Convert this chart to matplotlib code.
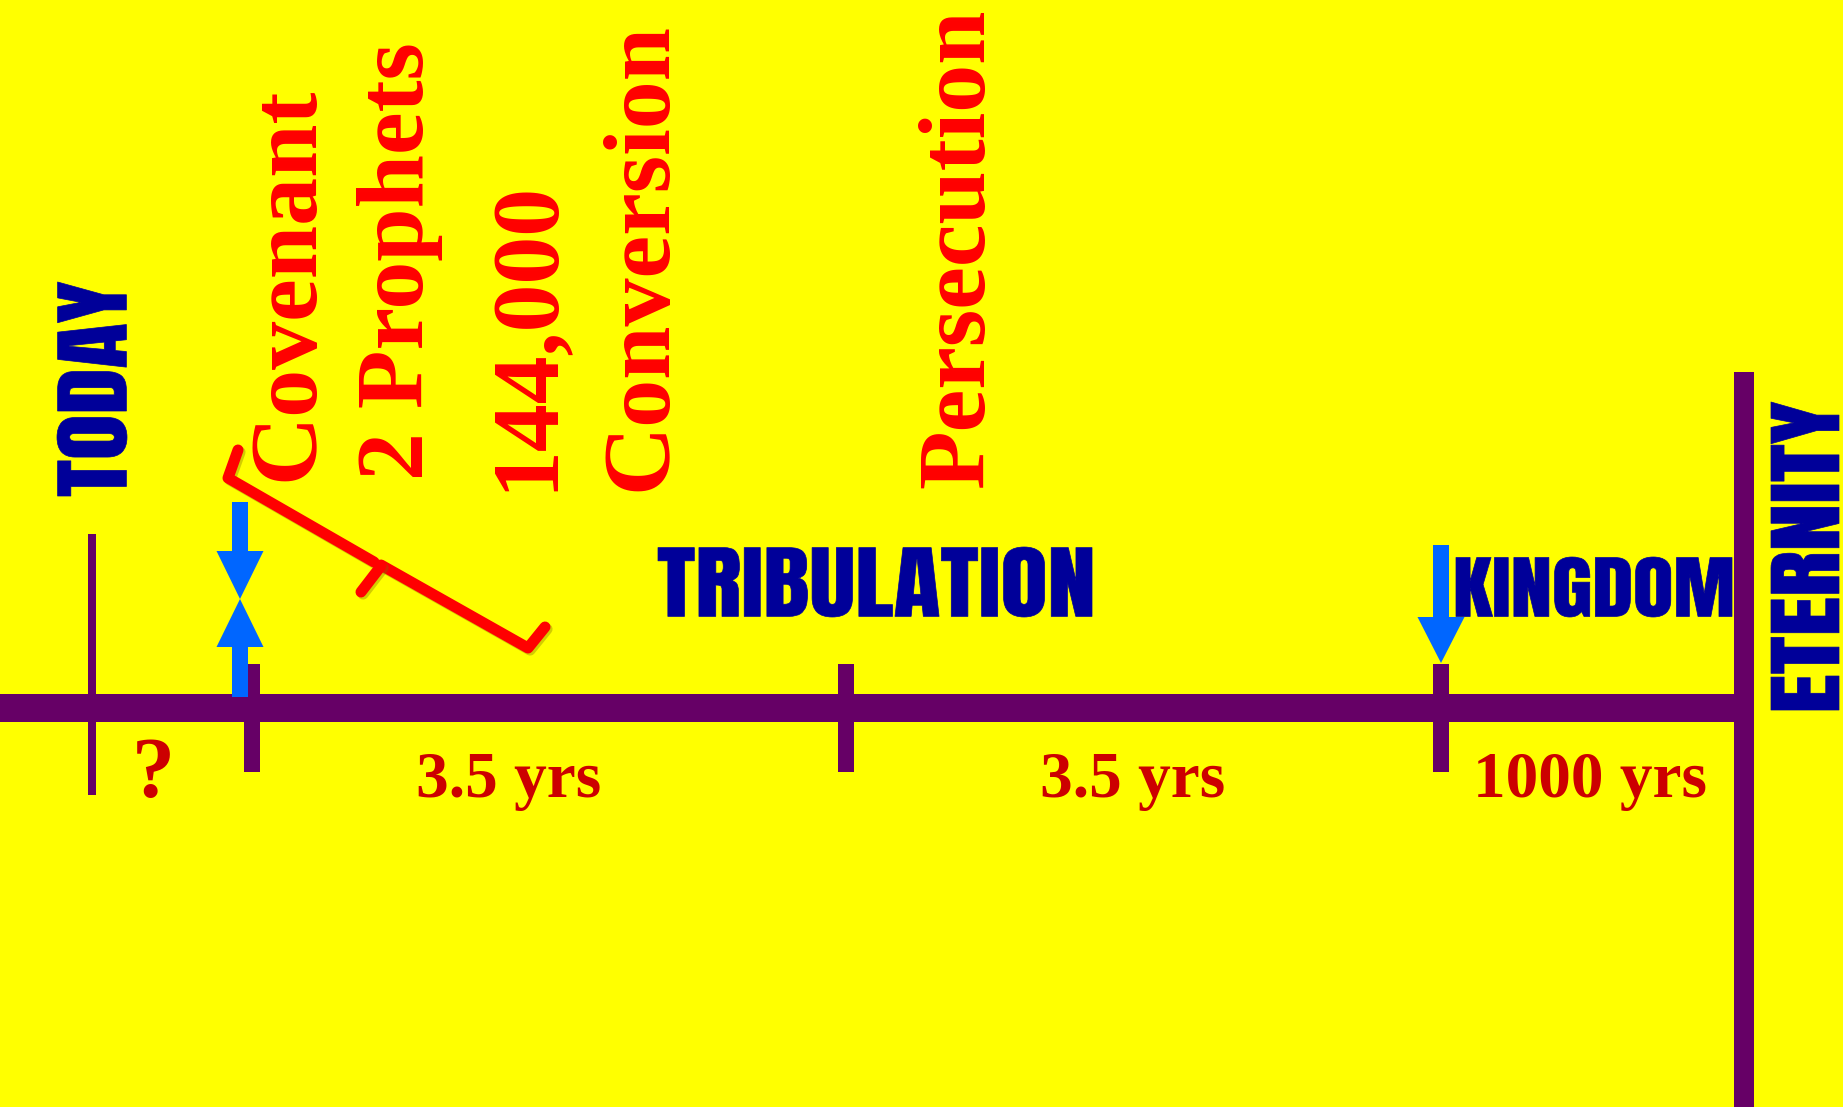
import matplotlib
matplotlib.use("Agg")
import matplotlib.pyplot as plt
import matplotlib.patheffects as pe
from matplotlib.patches import FancyArrow
from matplotlib.textpath import TextPath
from matplotlib.font_manager import FontProperties
from matplotlib.transforms import Affine2D

W, H = 1843, 1107
PX = 72 / 100  # points per pixel at dpi 100

YELLOW = "#ffff00"
PURPLE = "#660066"
BLUE = "#0066ff"
NAVY = "#000099"
RED = "#ff0000"
DARKRED = "#cc0000"
SERIF = ["Liberation Serif", "DejaVu Serif"]
HEAVY = ["Anton", "DejaVu Sans"]

# timeline, in picture pixels
line_y = 708
eternity_x = 1744
eternity_top = 372
today_x = 92
tick_x = [252, 846, 1441]

period_labels = ["?", "3.5 yrs", "3.5 yrs", "1000 yrs"]
period_label_x = [153, 509, 1133, 1590]
period_label_size = [62, 47, 47, 47]

events = ["Covenant", "2 Prophets", "144,000", "Conversion", "Persecution"]
event_x = [312, 423, 552, 665, 983]
event_y = [481, 480, 491, 491, 488]

headings = ["TODAY", "TRIBULATION", "KINGDOM", "ETERNITY"]
heading_box = [(57, 127, 282, 496), (658, 1092, 547, 617),
               (1456, 1732, 557, 617), (1771, 1839, 402, 710)]
heading_rot = [90, 0, 0, 90]

arrow_x = [240, 240, 1441]
arrow_from = [502, 697, 545]
arrow_to = [599, 599, 663]
arrow_head = [(47, 48), (47, 48), (47, 46)]

brace_a_x = [238, 228, 374]
brace_a_y = [450, 478, 562]
brace_b_x = [381, 528, 545]
brace_b_y = [565, 648, 627]
brace_nub_x = [381, 361]
brace_nub_y = [566, 592]


class Squeeze(pe.AbstractPathEffect):
    """narrow the glyphs along the text direction, like a condensed face"""
    def __init__(self, sx, lw=0.0):
        super().__init__()
        self.sx = sx
        self.lw = lw

    def draw_path(self, renderer, gc, tpath, affine, rgbFace=None):
        gc0 = renderer.new_gc()
        gc0.copy_properties(gc)
        gc0.set_linewidth(self.lw)
        gc0.set_foreground(rgbFace)
        renderer.draw_path(gc0, tpath, Affine2D().scale(self.sx, 1) + affine, rgbFace)
        gc0.restore()


fig = plt.figure(figsize=(W / 100, H / 100), dpi=100, facecolor=YELLOW)
ax = fig.add_axes([0, 0, 1, 1])
ax.set_xlim(0, W)
ax.set_ylim(H, 0)
ax.axis("off")

# main timeline and end bar
ax.plot([0, eternity_x], [line_y, line_y], color=PURPLE, lw=28 * PX, solid_capstyle="butt")
ax.plot([eternity_x, eternity_x], [eternity_top, H], color=PURPLE, lw=20 * PX, solid_capstyle="butt")
ax.plot([today_x, today_x], [534, 795], color=PURPLE, lw=8 * PX, solid_capstyle="butt")
for x in tick_x:
    ax.plot([x, x], [664, 772], color=PURPLE, lw=16 * PX, solid_capstyle="butt")

# blue arrows
for x, y0, y1, (hw, hl) in zip(arrow_x, arrow_from, arrow_to, arrow_head):
    ax.add_patch(FancyArrow(x, y0, 0, y1 - y0, width=16, head_width=hw, head_length=hl,
                            length_includes_head=True, color=BLUE, lw=0, zorder=3))

# red brace
shadow = [pe.SimpleLineShadow(offset=(1.5, -1.5), shadow_color="#807000", alpha=0.35), pe.Normal()]
for xs, ys in [(brace_a_x, brace_a_y), (brace_b_x, brace_b_y), (brace_nub_x, brace_nub_y)]:
    ax.plot(xs, ys, color=RED, lw=11 * PX, solid_joinstyle="round",
            solid_capstyle="round", path_effects=shadow, zorder=4)

# event labels
for txt, x, y in zip(events, event_x, event_y):
    ax.text(x, y, txt, rotation=90, rotation_mode="anchor", ha="left", va="baseline",
            family=SERIF, weight="bold", fontsize=69, color=RED)

# period lengths
for txt, x, sz in zip(period_labels, period_label_x, period_label_size):
    ax.text(x, 797, txt, ha="center", va="baseline", family=SERIF,
            weight="bold", fontsize=sz, color=DARKRED)

# condensed headings fitted to their boxes
for txt, (x0, x1, y0, y1), rot in zip(headings, heading_box, heading_rot):
    base = FontProperties(family=HEAVY, weight="bold")
    ext = TextPath((0, 0), txt, size=100, prop=base).get_extents()
    if rot == 0:
        height, length = y1 - y0, x1 - x0
    else:
        height, length = x1 - x0, y1 - y0
    s = height / ext.height
    sx = length / (ext.width * s)
    if rot == 0:
        tx, ty = x0 - ext.x0 * s * sx, y1 + ext.y0 * s
    else:
        tx, ty = x1 + ext.y0 * s, y1 + ext.x0 * s * sx
    fp = FontProperties(family=HEAVY, weight="bold", size=100 * s * PX)
    ax.text(tx, ty, txt, fontproperties=fp, rotation=rot, rotation_mode="anchor",
            ha="left", va="baseline", color=NAVY,
            path_effects=[Squeeze(sx, 0.5 if sx > 0.85 else 2.0)])

fig.savefig("out.png", dpi=100, facecolor=YELLOW)
